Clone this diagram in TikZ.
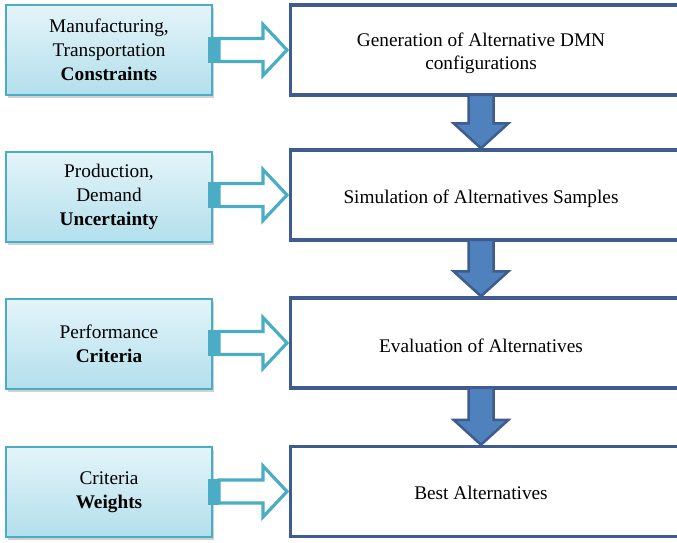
\documentclass[tikz,border=0pt]{standalone}
\usepackage{fontspec}
\setmainfont{Liberation Serif}
\usetikzlibrary{shadows,calc}

\definecolor{inborder}{RGB}{75,172,198}
\definecolor{intop}{RGB}{228,244,249}
\definecolor{inbottom}{RGB}{178,223,236}
\definecolor{outborder}{RGB}{62,92,143}
\definecolor{downfill}{RGB}{79,129,189}

% hollow input arrow from a left box (#1) to a step box (#2)
\newcommand\feedarrow[2]{%
  \draw[hollowarr] let \p1=(#1), \p2=(#2) in
    (\x1+6pt,\y2+11.5pt) -- (\x2-25.5pt,\y2+11.5pt) -- (\x2-25.5pt,\y2+25.5pt)
    -- (\x2-1.5pt,\y2) -- (\x2-25.5pt,\y2-25.5pt) -- (\x2-25.5pt,\y2-11.5pt)
    -- (\x1+6pt,\y2-11.5pt) -- cycle;
  \fill[inborder] let \p1=(#1), \p2=(#2) in
    (\x1-5pt,\y2-13pt) rectangle (\x1+6pt,\y2+13pt);
}
% block arrow pointing down from #1 to #2
\newcommand\flowdown[2]{%
  \draw[downarr] let \p1=(#1), \p2=(#2) in
    (\x1-12.5pt,\y1+2pt) -- (\x1+12.5pt,\y1+2pt) -- (\x1+12.5pt,\y2+25pt)
    -- (\x1+27.5pt,\y2+25pt) -- (\x1,\y2) -- (\x1-27.5pt,\y2+25pt)
    -- (\x1-12.5pt,\y2+25pt) -- cycle;
}

\begin{document}
\begin{tikzpicture}[x=1pt,y=-1pt,
  inbox/.style={draw=inborder, line width=1.8pt, top color=intop, bottom color=inbottom,
    minimum width=206pt, minimum height=90pt, align=center, inner sep=0pt,
    font=\fontsize{19.3}{24}\selectfont,
    drop shadow={shadow xshift=2pt, shadow yshift=-3pt, opacity=0.3, fill=black!60}},
  outbox/.style={draw=outborder, line width=3.5pt, fill=white,
    minimum width=440pt, minimum height=90pt, anchor=west, inner sep=0pt},
  outtext/.style={align=center, inner sep=0pt, font=\fontsize{19.3}{23}\selectfont},
  hollowarr/.style={draw=inborder, line width=3.2pt, fill=white, line join=miter},
  downarr/.style={draw=outborder, line width=2.5pt, fill=downfill, line join=miter}]
\useasboundingbox (0,0) rectangle (677,543);
\clip (0,0) rectangle (677,543);

% inputs
\node[inbox] (l1) at (109,50) {Manufacturing,\\Transportation\\\textbf{Constraints}};
\node[inbox] (l2) at (109,197) {Production,\\Demand\\\textbf{Uncertainty}};
\node[inbox] (l3) at (109,344) {Performance\\\textbf{Criteria}};
\node[inbox] (l4) at (109,492) {Criteria\\\textbf{Weights}};

% process steps
\node[outbox] (r1) at (288.5,50) {};
\node[outbox] (r2) at (288.5,195) {};
\node[outbox] (r3) at (288.5,343) {};
\node[outbox] (r4) at (288.5,491.5) {};

\node[outtext] (t1) at (481,53.5) {Generation of Alternative DMN\\configurations};
\node[outtext] (t2) at (481,199) {Simulation of Alternatives Samples};
\node[outtext] (t3) at (481,346) {Evaluation of Alternatives};
\node[outtext] (t4) at (481,493) {Best Alternatives};

% inputs feeding the steps
\feedarrow{l1.east}{r1.west}
\feedarrow{l2.east}{r2.west}
\feedarrow{l3.east}{r3.west}
\feedarrow{l4.east}{r4.west}

% flow between steps
\flowdown{t1 |- r1.south}{t2 |- r2.north}
\flowdown{t2 |- r2.south}{t3 |- r3.north}
\flowdown{t3 |- r3.south}{t4 |- r4.north}
\end{tikzpicture}
\end{document}
